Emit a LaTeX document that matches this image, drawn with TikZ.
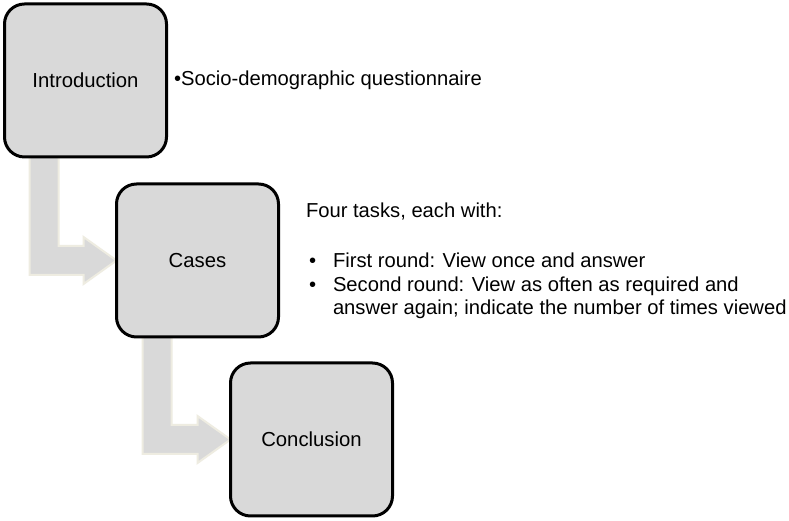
\documentclass[tikz,border=0pt]{standalone}
\usepackage{fontspec}
\setmainfont{Liberation Sans}
\usetikzlibrary{calc,backgrounds}

\begin{document}
\begin{tikzpicture}[x=1pt,y=1pt,
	stage/.style={draw=black,fill=boxColor,line width=3pt,rounded corners=20pt,
		minimum width=162pt,minimum height=153pt,inner sep=0pt,outer sep=0pt,
		font=\fontsize{20.3}{23.5}\selectfont},
	note/.style={align=left,inner sep=0pt,outer sep=0pt,font=\fontsize{20.2}{23.5}\selectfont},
	flowarrow/.style={draw=arrowColor,fill=boxColor,line width=2pt,line join=miter}]
\definecolor{boxColor}{RGB}{217,217,217}
\definecolor{arrowColor}{RGB}{238,236,225}
\path[use as bounding box] (0,0) rectangle (789.00,521.00);
\begin{scope}

\node[stage] (intro) at ( 85.50,440.50) {Introduction};

\node[stage] (cases) at (197.50,260.50) {Cases};

\node[stage] (concl) at (311.50, 81.50) {Conclusion};
\end{scope}
\begin{scope}

\node[note,anchor=west] (introNote) at (174.00,441.00) {•Socio-demographic questionnaire};

\node[note,anchor=north west] (casesNote) at (306.00,318.50) {Four tasks, each with:\\[27pt]
	\makebox[27pt][l]{\hspace{3pt}•}First round: View once and answer\\
	\makebox[27pt][l]{\hspace{3pt}•}Second round: View as often as required and\\
	\hspace*{27pt}answer again; indicate the number of times viewed};
\end{scope}
\begin{scope}[on background layer]
\path[fill=white] (0,0) rectangle (789.00,521.00);

\path[flowarrow] ($(intro.south west)+(25,0)$) -- ++(29,0) |-
	($(cases.west)+(-33,14.5)$) -- ++(0,9) -- (cases.west) --
	++(-33,-23.5) -- ++(0,9) -| ($(intro.south west)+(25,0)$) -- cycle;

\path[flowarrow] ($(cases.south west)+(26,0)$) -- ++(29,0) |-
	($(concl.west)+(-33,14.5)$) -- ++(0,9) -- (concl.west) --
	++(-33,-23.5) -- ++(0,9) -| ($(cases.south west)+(26,0)$) -- cycle;
\end{scope}
\end{tikzpicture}
\end{document}
